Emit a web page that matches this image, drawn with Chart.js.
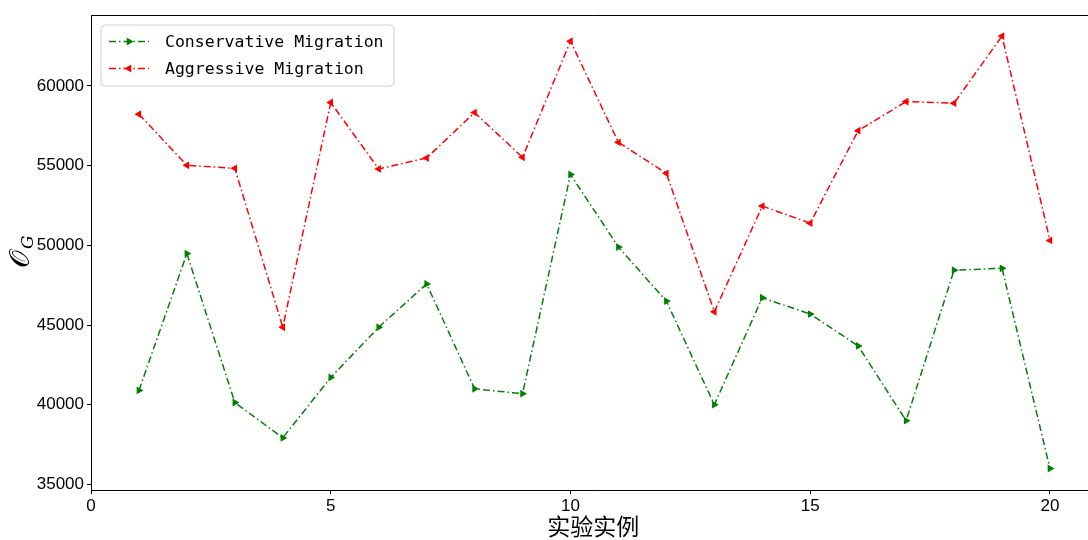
<!DOCTYPE html>
<html>
<head>
<meta charset="utf-8">
<script src="https://cdn.jsdelivr.net/npm/chart.js@4.4.0/dist/chart.umd.min.js"></script>
<style>
  html, body { margin: 0; padding: 0; background: #fff; overflow: hidden; }
</style>
</head>
<body>
<canvas id="grafico" width="1100" height="540"></canvas>
<script>
// dati
const esperimenti = [1, 2, 3, 4, 5, 6, 7, 8, 9, 10, 11, 12, 13, 14, 15, 16, 17, 18, 19, 20];
const conservative = [40900, 49480, 40140, 37920, 41710, 44860, 47580, 41000, 40690, 54450,
  49890, 46500, 40000, 46710, 45690, 43690, 39000, 48440, 48560, 36000];
const aggressive = [58230, 55020, 54830, 44860, 58960, 54790, 55480, 58330, 55520, 62810,
  56460, 54520, 45830, 52460, 51390, 57190, 59020, 58920, 63130, 50310];
const xTicks = [0, 5, 10, 15, 20];
const yTicks = [35000, 40000, 45000, 50000, 55000, 60000];

const tickFont = { family: 'Liberation Sans', size: 17 };
const legendFont = '16.5px "DejaVu Sans Mono"';
const dashDot = [7, 3, 1.5, 3];

function punti(valori) {
  return esperimenti.map((x, i) => ({ x: x, y: valori[i] }));
}

function triangolo(ctx, x, y, r, dir, color) {
  ctx.save();
  ctx.translate(x, y);
  ctx.rotate(dir * Math.PI / 2);
  ctx.beginPath();
  ctx.moveTo(0, -r);
  ctx.lineTo(r * 0.87, r * 0.5);
  ctx.lineTo(-r * 0.87, r * 0.5);
  ctx.closePath();
  ctx.fillStyle = color;
  ctx.fill();
  ctx.restore();
}

// spine superiore, titolo asse y e legenda
const decorazioni = {
  id: 'decorazioni',
  afterDraw(chart) {
    const ctx = chart.ctx;
    const area = chart.chartArea;

    ctx.save();
    ctx.strokeStyle = '#000';
    ctx.lineWidth = 1;
    ctx.beginPath();
    ctx.moveTo(area.left, area.top + 0.5);
    ctx.lineTo(area.right, area.top + 0.5);
    ctx.stroke();
    ctx.restore();

    // O_G ruotato
    ctx.save();
    ctx.translate(23, 268);
    ctx.rotate(-Math.PI / 2);
    ctx.fillStyle = '#000';
    ctx.textBaseline = 'alphabetic';
    ctx.font = '28px "DejaVu Serif"';
    ctx.fillText('𝒪', 0, 6);
    const w = ctx.measureText('𝒪').width;
    ctx.font = 'italic 17px "DejaVu Serif"';
    ctx.fillText('G', w + 1, 10);
    ctx.restore();

    // legenda
    const bx = 101, by = 25, bw = 293, bh = 61, rr = 4;
    ctx.save();
    ctx.beginPath();
    ctx.moveTo(bx + rr, by);
    ctx.arcTo(bx + bw, by, bx + bw, by + bh, rr);
    ctx.arcTo(bx + bw, by + bh, bx, by + bh, rr);
    ctx.arcTo(bx, by + bh, bx, by, rr);
    ctx.arcTo(bx, by, bx + bw, by, rr);
    ctx.closePath();
    ctx.fillStyle = 'rgba(255,255,255,0.8)';
    ctx.fill();
    ctx.strokeStyle = '#d0d0d0';
    ctx.lineWidth = 1;
    ctx.stroke();

    chart.data.datasets.forEach((ds, i) => {
      const y = 41.5 + i * 27;
      ctx.strokeStyle = ds.borderColor;
      ctx.lineWidth = ds.borderWidth;
      ctx.setLineDash(ds.borderDash);
      ctx.beginPath();
      ctx.moveTo(109, y);
      ctx.lineTo(149, y);
      ctx.stroke();
      ctx.setLineDash([]);
      triangolo(ctx, 129, y, ds.pointRadius, ds.pointRotation / 90, ds.borderColor);
      ctx.fillStyle = '#000';
      ctx.font = legendFont;
      ctx.textBaseline = 'middle';
      ctx.fillText(ds.label, 165, y + 1);
    });
    ctx.restore();
  }
};

const grafico = new Chart(document.getElementById('grafico'), {
  type: 'line',
  data: {
    datasets: [{
      label: 'Conservative Migration',
      data: punti(conservative),
      borderColor: '#008000',
      backgroundColor: '#008000',
      borderWidth: 1.5,
      borderDash: dashDot,
      pointStyle: 'triangle',
      pointRotation: 90,
      pointRadius: 4.5,
      pointBorderWidth: 0,
      tension: 0
    }, {
      label: 'Aggressive Migration',
      data: punti(aggressive),
      borderColor: '#ff0000',
      backgroundColor: '#ff0000',
      borderWidth: 1.5,
      borderDash: dashDot,
      pointStyle: 'triangle',
      pointRotation: -90,
      pointRadius: 4.5,
      pointBorderWidth: 0,
      tension: 0
    }]
  },
  options: {
    responsive: false,
    animation: false,
    layout: { padding: { top: 15, right: 3.4, left: 0, bottom: 0 } },
    plugins: {
      legend: { display: false },
      tooltip: { enabled: false }
    },
    scales: {
      x: {
        type: 'linear',
        min: 0,
        max: 20.95,
        afterBuildTicks: (scale) => { scale.ticks = xTicks.map(v => ({ value: v })); },
        afterFit: (scale) => { scale.height = 50; },
        ticks: { font: tickFont, color: '#000', padding: 2, maxRotation: 0 },
        grid: { drawOnChartArea: false, drawTicks: true, tickLength: 4, color: '#000' },
        border: { display: true, color: '#000', width: 1 },
        title: {
          display: true,
          text: '实验实例',
          color: '#000',
          font: { family: 'Noto Sans CJK SC', size: 23, lineHeight: 1.2 },
          padding: { top: 0, bottom: 0 }
        }
      },
      y: {
        type: 'linear',
        min: 34650,
        max: 64450,
        afterBuildTicks: (scale) => { scale.ticks = yTicks.map(v => ({ value: v })); },
        afterFit: (scale) => { scale.width = 91; },
        ticks: { font: tickFont, color: '#000', padding: 3, callback: (v) => String(v) },
        grid: { drawOnChartArea: false, drawTicks: true, tickLength: 4, color: '#000' },
        border: { display: true, color: '#000', width: 1 }
      }
    }
  },
  plugins: [decorazioni]
});
</script>
</body>
</html>
